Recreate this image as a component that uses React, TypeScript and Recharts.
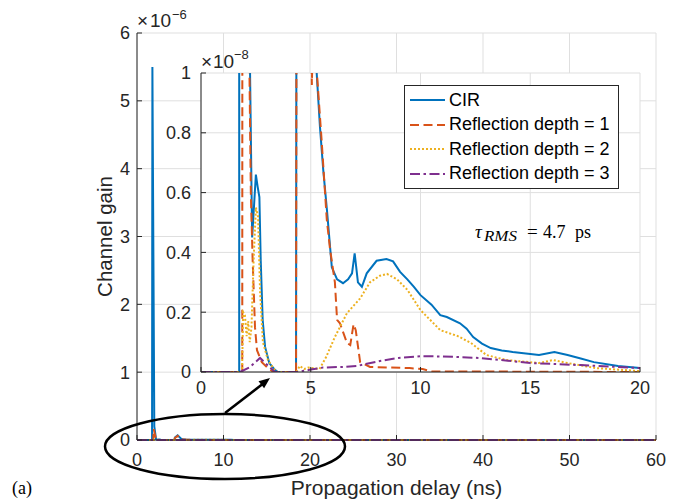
import React from "react";
import { LineChart, Line, XAxis, YAxis, CartesianGrid, Legend } from "recharts";

// gains are in units of 1e-8, delays in ns
const cirDelay = [
  0, 1.74, 1.78, 2.0, 2.2, 2.33, 2.5, 2.58, 2.66, 2.72, 2.81, 2.92, 3.11, 3.37, 3.5,
  4.33, 4.38, 4.7, 5.1, 5.27, 5.42, 5.57, 5.74, 5.96, 6.2, 6.47, 6.7, 6.88, 7.0, 7.15,
  7.33, 7.55, 8.0, 8.45, 8.75, 9.07, 9.4, 9.7, 10, 10.5, 10.9, 11.2, 11.8, 12.1, 12.4,
  12.8, 13.2, 13.7, 14.2, 15.4, 16.1, 16.7, 17.3, 17.9, 19, 20, 25, 30, 40, 50, 60,
];
const cirGain = [
  0, 0, 550, 20, 1.2, 0.45, 0.66, 0.62, 0.585, 0.375, 0.174, 0.084, 0.03, 0.007, 0,
  0, 3.5, 7, 2, 1.0, 0.82, 0.675, 0.54, 0.35, 0.31, 0.297, 0.31, 0.33, 0.397, 0.3,
  0.285, 0.33, 0.372, 0.378, 0.37, 0.335, 0.31, 0.285, 0.257, 0.225, 0.19, 0.184, 0.163, 0.145, 0.117,
  0.095, 0.08, 0.072, 0.067, 0.057, 0.067, 0.057, 0.045, 0.033, 0.02, 0.013, 0.005, 0.002, 0.001, 0, 0,
];

const depth1Delay = [
  0, 1.88, 1.93, 2.2, 2.27, 2.35, 2.46, 2.55, 2.77, 3.05, 3.3, 4.33, 4.38, 4.7, 5.0,
  5.05, 5.15, 5.28, 5.5, 5.73, 5.88, 6.1, 6.2, 6.33, 6.65, 6.8, 6.95, 7.05, 7.25, 7.7,
  8.5, 9.5, 10.1, 10.5, 20, 30, 40, 50, 60,
];
const depth1Gain = [
  0, 0, 16, 1.05, 0.6, 0.38, 0.15, 0.073, 0.033, 0.013, 0, 0, 3, 6, 1.5,
  0.96, 1.3, 1.0, 0.77, 0.51, 0.41, 0.3, 0.174, 0.163, 0.097, 0.09, 0.16, 0.14, 0.033, 0.017,
  0.015, 0.013, 0.01, 0.002, 0, 0, 0, 0, 0,
];

const depth2Delay = [
  0, 1.87, 1.92, 2.0, 2.08, 2.15, 2.22, 2.3, 2.4, 2.5, 2.6, 2.69, 2.82, 3.05, 3.37, 3.5,
  4.35, 4.5, 4.7, 4.9, 5.4, 5.7, 6.1, 6.65, 7.24, 7.7, 8.15, 8.47, 8.93, 9.4, 10,
  10.9, 11.7, 12.3, 13, 13.9, 15.4, 16.05, 16.7, 18, 20, 30, 60,
];
const depth2Gain = [
  0, 0, 0.2, 0.19, 0.12, 0.17, 0.1, 0.15, 0.38, 0.55, 0.52, 0.27, 0.1, 0.04, 0.005, 0,
  0, 0.02, 0.01, 0.015, 0.01, 0.05, 0.117, 0.197, 0.245, 0.3, 0.322, 0.328, 0.31, 0.275, 0.207,
  0.14, 0.12, 0.097, 0.057, 0.04, 0.03, 0.04, 0.03, 0.013, 0.003, 0, 0,
];

const depth3Delay = [
  0, 1.78, 2.2, 2.69, 3.0, 3.37, 4.37, 5.0, 5.56, 6.5, 7.1, 8.15, 9.0, 10, 11, 12.7,
  15, 17.3, 20, 30, 60,
];
const depth3Gain = [
  0, 0, 0.015, 0.047, 0.025, 0, 0, 0.008, 0.015, 0.017, 0.02, 0.037, 0.047, 0.053, 0.052, 0.047,
  0.03, 0.023, 0.013, 0.002, 0,
];

const mainXTicks = [0, 10, 20, 30, 40, 50, 60];
const mainYTicks = [0, 100, 200, 300, 400, 500, 600];
const insetXTicks = [0, 5, 10, 15, 20];
const insetYTicks = [0, 0.2, 0.4, 0.6, 0.8, 1];

const toPoints = (delay: number[], gain: number[]) =>
  delay.map((t, i) => ({ t, v: gain[i] }));

const series = [
  { name: "CIR", data: toPoints(cirDelay, cirGain), color: "#0072BD", dash: undefined },
  { name: "Reflection depth = 1", data: toPoints(depth1Delay, depth1Gain), color: "#D95319", dash: "9 4.5" },
  { name: "Reflection depth = 2", data: toPoints(depth2Delay, depth2Gain), color: "#EDB120", dash: "2 2" },
  { name: "Reflection depth = 3", data: toPoints(depth3Delay, depth3Gain), color: "#7E2F8E", dash: "10 3.5 2.5 3.5" },
];

const sans = "'Liberation Sans', Arial, sans-serif";
const serif = "'Liberation Serif', 'Times New Roman', serif";
const axisColor = "#262626";
const gridColor = "#dfdfdf";

const renderLegend = () => (
  <div
    style={{
      background: "#fff",
      border: `1px solid ${axisColor}`,
      padding: "2px 8px 2px 5px",
      fontFamily: sans,
      fontSize: 18,
      color: "#000",
      whiteSpace: "nowrap",
    }}
  >
    {series.map((s) => (
      <div key={s.name} style={{ display: "flex", alignItems: "center", height: 24.5 }}>
        <svg width={35} height={10}>
          <line x1={0} x2={35} y1={5} y2={5} stroke={s.color} strokeWidth={2} strokeDasharray={s.dash} />
        </svg>
        <span style={{ marginLeft: 4 }}>{s.name}</span>
      </div>
    ))}
  </div>
);

export default function App() {
  return (
    <div style={{ position: "absolute", left: 0, top: 0, width: 682, height: 499, background: "#fff", fontFamily: sans }}>
      {/* full 0-60 ns view */}
      <div style={{ position: "absolute", left: 0, top: 0 }}>
        <LineChart width={682} height={499} margin={{ top: 33, right: 26, bottom: 19, left: 73 }}>
          <CartesianGrid stroke={gridColor} />
          <XAxis
            dataKey="t"
            type="number"
            domain={[0, 60]}
            ticks={mainXTicks}
            interval={0}
            height={40}
            tickSize={-5}
            tickMargin={18}
            stroke={axisColor}
            tick={{ fill: axisColor, fontSize: 18, fontFamily: sans }}
            label={{ value: "Propagation delay (ns)", position: "bottom", offset: 0, fill: axisColor, fontSize: 21, fontFamily: sans }}
          />
          <XAxis xAxisId="top" orientation="top" type="number" domain={[0, 60]} ticks={mainXTicks} interval={0} height={0} tick={false} tickSize={-5} stroke={axisColor} />
          <YAxis
            type="number"
            domain={[0, 600]}
            ticks={mainYTicks}
            interval={0}
            width={64}
            tickSize={-5}
            tickMargin={12}
            stroke={axisColor}
            tickFormatter={(v: number) => String(v / 100)}
            tick={{ fill: axisColor, fontSize: 18, fontFamily: sans }}
            label={{ value: "Channel gain", angle: -90, position: "center", fill: axisColor, fontSize: 20.5, fontFamily: sans }}
          />
          <YAxis yAxisId="right" orientation="right" type="number" domain={[0, 600]} ticks={mainYTicks} interval={0} width={0} tick={false} tickSize={-5} stroke={axisColor} />
          {series.map((s) => (
            <Line
              key={s.name}
              data={s.data}
              dataKey="v"
              type="linear"
              stroke={s.color}
              strokeWidth={2}
              strokeDasharray={s.dash}
              dot={false}
              isAnimationActive={false}
            />
          ))}
        </LineChart>
      </div>

      {/* zoomed 0-20 ns inset */}
      <div style={{ position: "absolute", left: 0, top: 0 }}>
        <LineChart width={682} height={499} margin={{ top: 73, right: 42, bottom: 97, left: 161 }}>
          <CartesianGrid stroke={gridColor} fill="#fff" fillOpacity={1} />
          <XAxis
            dataKey="t"
            type="number"
            domain={[0, 20]}
            allowDataOverflow
            ticks={insetXTicks}
            interval={0}
            height={30}
            tickSize={-5}
            tickMargin={14}
            stroke={axisColor}
            tick={{ fill: axisColor, fontSize: 18, fontFamily: sans }}
          />
          <XAxis xAxisId="top" orientation="top" type="number" domain={[0, 20]} ticks={insetXTicks} interval={0} height={0} tick={false} tickSize={-5} stroke={axisColor} />
          <YAxis
            type="number"
            domain={[0, 1]}
            allowDataOverflow
            ticks={insetYTicks}
            interval={0}
            width={40}
            tickSize={-5}
            tickMargin={15}
            stroke={axisColor}
            tick={{ fill: axisColor, fontSize: 18, fontFamily: sans }}
          />
          <YAxis yAxisId="right" orientation="right" type="number" domain={[0, 1]} ticks={insetYTicks} interval={0} width={0} tick={false} tickSize={-5} stroke={axisColor} />
          {series.map((s) => (
            <Line
              key={s.name}
              name={s.name}
              data={s.data}
              dataKey="v"
              type="linear"
              stroke={s.color}
              strokeWidth={2}
              strokeDasharray={s.dash}
              dot={false}
              isAnimationActive={false}
            />
          ))}
          <Legend
            layout="vertical"
            align="center"
            verticalAlign="middle"
            content={renderLegend}
            wrapperStyle={{ left: 404, top: 85, width: "auto" }}
          />
        </LineChart>
      </div>

      {/* annotations */}
      <svg width={682} height={499} style={{ position: "absolute", left: 0, top: 0, pointerEvents: "none" }}>
        <text x={137} y={27} fontSize={19} fill={axisColor} fontFamily={sans}>×</text>
        <text x={150} y={27} fontSize={19} fill={axisColor} fontFamily={sans}>10</text>
        <text x={172} y={19} fontSize={13} fill={axisColor} fontFamily={sans}>−6</text>

        <text x={201} y={68} fontSize={19} fill={axisColor} fontFamily={sans}>×</text>
        <text x={213} y={68} fontSize={19} fill={axisColor} fontFamily={sans}>10</text>
        <text x={234} y={59} fontSize={13} fill={axisColor} fontFamily={sans}>−8</text>

        <text x={475} y={238} fontSize={19} fontStyle="italic" fontFamily={serif} fill="#000">τ</text>
        <text x={484} y={241} fontSize={14} fontStyle="italic" fontFamily={serif} fill="#000" textLength={33} lengthAdjust="spacingAndGlyphs">RMS</text>
        <text x={527} y={238} fontSize={19} fontFamily={serif} fill="#000">=</text>
        <text x={543} y={238} fontSize={18} fontFamily={serif} fill="#000">4.7</text>
        <text x={575} y={238} fontSize={18} fontFamily={serif} fill="#000">ps</text>

        <text x={12} y={494} fontSize={18} fontFamily={serif} fill="#000">(a)</text>

        <ellipse cx={225} cy={446.5} rx={120} ry={32.5} fill="none" stroke="#000" strokeWidth={2.5} />
        <line x1={225} y1={413} x2={262} y2={384.5} stroke="#000" strokeWidth={2.5} />
        <polygon points="270,378 264.1,388.3 258.5,381.2" fill="#000" />
      </svg>
    </div>
  );
}
